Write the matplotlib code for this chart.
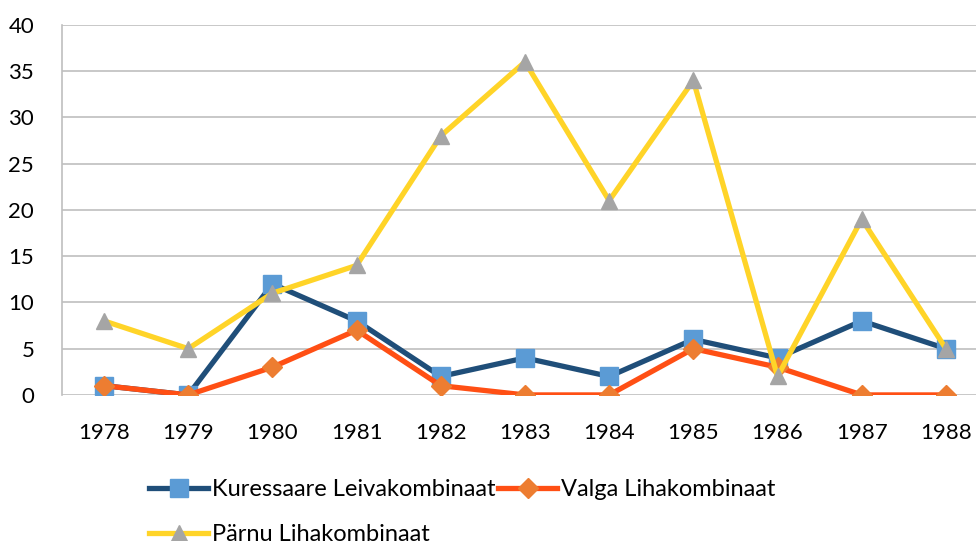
import numpy as np
import matplotlib
matplotlib.use('Agg')
import matplotlib.pyplot as pl
from matplotlib import rcParams
rcParams['font.family'] = ['Lato', 'DejaVu Sans']

fontsize = 16
years = ['1978', '1979', '1980', '1981', '1982', '1983', '1984', '1985', '1986', '1987', '1988']
kuressaare = [1, 0, 12, 8, 2, 4, 2, 6, 4, 8, 5]
valga = [1, 0, 3, 7, 1, 0, 0, 5, 3, 0, 0]
parnu = [8, 5, 11, 14, 28, 36, 21, 34, 2, 19, 5]

fig = pl.figure(figsize=(9.76, 5.41), dpi=100)
ax = fig.add_axes([0.0635, 0.27, 0.9488, 0.684])
x = np.arange(len(years))

l1, = ax.plot(x, kuressaare, color='#1F4E79', linewidth=3.8, marker='s', markersize=13.5,
              markerfacecolor='#5B9BD5', markeredgecolor='#5B9BD5', label='Kuressaare Leivakombinaat', zorder=3)
l2, = ax.plot(x, valga, color='#FF4F14', linewidth=3.8, marker='D', markersize=10,
              markerfacecolor='#ED7D31', markeredgecolor='#ED7D31', label='Valga Lihakombinaat', zorder=4)
l3, = ax.plot(x, parnu, color='#FFD428', linewidth=3.8, marker='^', markersize=11.5,
              markerfacecolor='#A5A5A5', markeredgecolor='#A5A5A5', label='Pärnu Lihakombinaat', zorder=5)

ax.set_xlim(-0.5, len(years) - 0.5)
ax.set_ylim(0, 40)
ax.set_yticks(range(0, 41, 5))
ax.set_xticks(x)
ax.set_xticklabels(years)
ax.tick_params(length=0, labelsize=fontsize)
ax.tick_params(axis='x', pad=20)
ax.tick_params(axis='y', pad=20)
ax.grid(axis='y', color='#BFBFBF', linewidth=1.2)
for s in ['top', 'right', 'bottom']:
    ax.spines[s].set_visible(False)
ax.spines['left'].set_color('#BFBFBF')
ax.spines['left'].set_linewidth(1.2)
ax.set_axisbelow(True)

# excel-ish wrap: row 1 K + V, row 2 P
fig.legend([l1, l3, l2], [l1.get_label(), l3.get_label(), l2.get_label()],
           ncol=2, loc='upper left', bbox_to_anchor=(0.141, 0.136), frameon=False,
           fontsize=17, handlelength=2.5, handletextpad=0.15, columnspacing=0.12,
           labelspacing=1.0, borderpad=0)

pl.savefig('out.png', dpi=100)
